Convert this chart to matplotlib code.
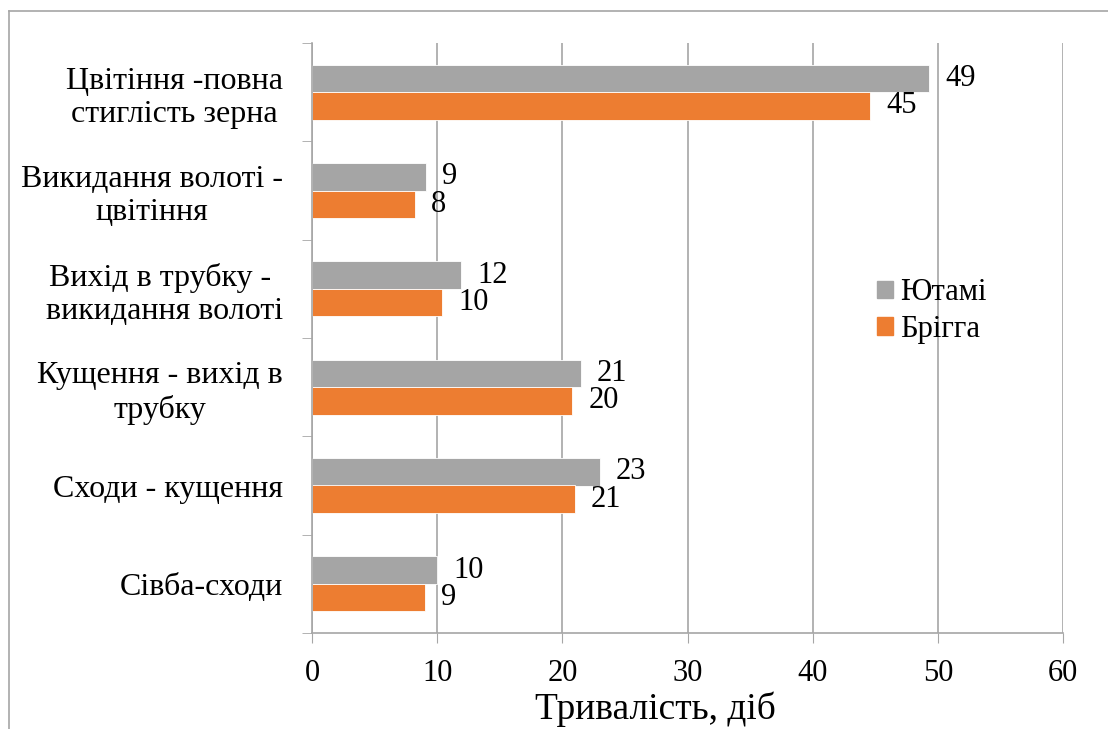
import numpy as np
import matplotlib
matplotlib.use('Agg')
import matplotlib.pyplot as plt
from matplotlib.patches import Patch
from matplotlib.lines import Line2D

plt.rcParams.update({'font.family': ['Liberation Serif', 'DejaVu Serif']})

# ---- data (bottom to top, as drawn) ----
stages = ['Сівба-сходи', 'Сходи - кущення', 'Кущення - вихід в\nтрубку',
          'Вихід в трубку -\n викидання волоті', 'Викидання волоті -\nцвітіння',
          'Цвітіння -повна\nстиглість зерна']
yutami = [10.0, 23.0, 21.5, 11.9, 9.1, 49.3]
yutami_lbl = [10, 23, 21, 12, 9, 49]
brigga = [9.0, 21.0, 20.8, 10.4, 8.2, 44.6]
brigga_lbl = [9, 21, 20, 10, 8, 45]
series = ['Ютамі', 'Брігга']
xticks = [0, 10, 20, 30, 40, 50, 60]
xlabel = 'Тривалість, діб'

GRAY, ORANGE, GRID = '#A5A5A5', '#ED7D31', '#A6A6A6'
W, H = 1108, 729

fig = plt.figure(figsize=(W / 100, H / 100), dpi=100)
ax = fig.add_axes([312 / W, 1 - 633 / H, (1063 - 312) / W, (633 - 43) / H])

y = np.arange(len(stages))
h = 0.28
ax.barh(y + h / 2, yutami, h, color=GRAY, edgecolor='white', lw=0.6, zorder=2)
ax.barh(y - h / 2, brigga, h, color=ORANGE, edgecolor='white', lw=0.6, zorder=2)

for yy, v, t in zip(y, yutami, yutami_lbl):
    ax.annotate(str(t), (v, yy + h / 2), xytext=(11.5, 0), textcoords='offset points',
                ha='left', va='center', fontsize=22)
for yy, v, t in zip(y, brigga, brigga_lbl):
    ax.annotate(str(t), (v, yy - h / 2), xytext=(11.5, 0), textcoords='offset points',
                ha='left', va='center', fontsize=22)

ax.set_xlim(0, 60)
ax.set_ylim(-0.5, len(stages) - 0.5)
ax.set_xticks(xticks)
ax.set_xticklabels([str(t) for t in xticks], fontsize=22)
ax.tick_params(axis='x', direction='out', length=7, color=GRID, pad=12)
ax.set_yticks(y)
ax.set_yticklabels(stages, fontsize=23, multialignment='center')
ax.set_yticks(np.arange(len(stages) + 1) - 0.5, minor=True)
ax.tick_params(axis='y', which='major', length=0, pad=21)
ax.tick_params(axis='y', which='minor', direction='out', length=7, color=GRID)
ax.grid(axis='x', color=GRID, lw=1.2, zorder=0)
ax.set_axisbelow(True)
for s in ['top', 'right']:
    ax.spines[s].set_visible(False)
for s in ['left', 'bottom']:
    ax.spines[s].set_color(GRID)
    ax.spines[s].set_linewidth(1.2)

# axis title sits a bit left of the plot centre in the original
fig.text(655 / W, 1 - 719 / H, xlabel, fontsize=27, ha='center', va='baseline')

handles = [Patch(color=GRAY), Patch(color=ORANGE)]
fig.legend(handles, series, loc='center left', bbox_to_anchor=(877 / W, 1 - 311 / H),
           frameon=False, fontsize=22, handlelength=0.52, handleheight=0.52,
           handletextpad=0.23, labelspacing=0.24, borderpad=0, borderaxespad=0)

# outer frame of the chart object
fig.add_artist(Line2D([9 / W, 9 / W], [0, 1 - 11 / H], color=GRID, lw=1.2))
fig.add_artist(Line2D([9 / W, 1], [1 - 11 / H, 1 - 11 / H], color=GRID, lw=1.2))

fig.savefig('out.png', dpi=100)
